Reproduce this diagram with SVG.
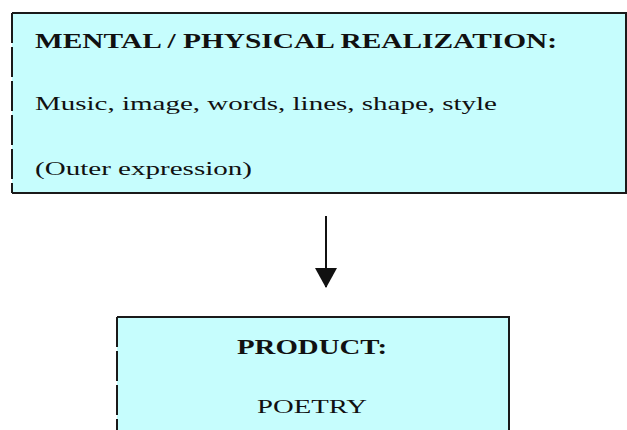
<svg xmlns="http://www.w3.org/2000/svg" width="627" height="430" viewBox="0 0 627 430">
<style>
.box{fill:#c6fdfd;stroke:none}
.edge{stroke:#1a1a1a;stroke-width:2;fill:none}
.dash{stroke:#1a1a1a;stroke-width:2;stroke-dasharray:30 4;fill:none}
text{font-family:"Liberation Serif","Times New Roman",serif;fill:#111}
.b{font-weight:bold;font-size:20px}
.r{font-size:19px}
</style>
<defs>
<marker id="ah" markerWidth="20" markerHeight="22" refX="19" refY="11" orient="auto" markerUnits="userSpaceOnUse" viewBox="0 0 20 22">
<path d="M0,0 L20,11 L0,22 Z" fill="#111"/>
</marker>
</defs>
<rect width="627" height="430" fill="#ffffff"/>
<g id="node-realization">
<rect class="box" x="12" y="13" width="614" height="180"/>
<path class="edge" d="M12,13 H626 V193 H12"/>
<path class="dash" d="M12,13 V193"/>
<text class="b" x="35" y="48" textLength="522" lengthAdjust="spacingAndGlyphs">MENTAL / PHYSICAL REALIZATION:</text>
<text class="r" x="35" y="110" textLength="462" lengthAdjust="spacingAndGlyphs">Music, image, words, lines, shape, style</text>
<text class="r" x="35" y="175" textLength="217" lengthAdjust="spacingAndGlyphs">(Outer expression)</text>
</g>
<g id="connectors">
<line x1="326" y1="216" x2="326" y2="287" stroke="#111" stroke-width="2" marker-end="url(#ah)"/>
</g>
<g id="node-product">
<rect class="box" x="117" y="317" width="392" height="120"/>
<path class="edge" d="M117,317 H509 V432"/>
<path class="dash" d="M117,317 V432"/>
<text class="b" x="312" y="354" text-anchor="middle" textLength="150" lengthAdjust="spacingAndGlyphs">PRODUCT:</text>
<text class="r" x="312" y="413" text-anchor="middle" textLength="110" lengthAdjust="spacingAndGlyphs">POETRY</text>
</g>
</svg>
